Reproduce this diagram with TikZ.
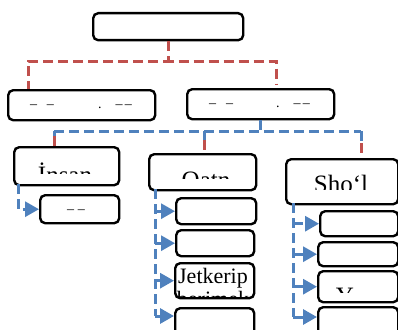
\documentclass[tikz,border=0pt]{standalone}
\usepackage{fontspec}
\setmainfont{Liberation Serif}
\usepackage{xcolor}
\usetikzlibrary{arrows.meta,positioning}
\definecolor{redline}{RGB}{192,80,77}
\definecolor{blueline}{RGB}{79,129,189}

\begin{document}
\begin{tikzpicture}[
    x=1pt, y=-1pt,
    box/.style={draw, line width=2.4pt, rounded corners=5pt, inner sep=0, anchor=north west},
    reddash/.style={draw, line width=3pt, color=redline, dash pattern=on 10pt off 5pt},
    bluedash/.style={draw, line width=3pt, color=blueline, dash pattern=on 10pt off 5pt},
    arr/.style={bluedash, -{Triangle[width=15pt,length=14pt]}},
    lbl/.style={font=\fontsize{25}{28}\selectfont, inner sep=0, anchor=base},
    small/.style={font=\fontsize{22}{25}\selectfont, inner sep=0, anchor=base},
    tick/.style={font=\fontsize{14}{16}\selectfont, inner sep=0}]
\clip (0,0) rectangle (398,329);

\node[box, minimum width=150pt, minimum height=27pt] (TOP) at (92,12) {};
\node[box, minimum width=147pt, minimum height=30pt] (ML) at (7,89) {};
\node[box, minimum width=147pt, minimum height=30pt] (MR) at (186,88) {};
\node[tick] (MLA) at (42,107) {–\hspace{10pt}–};
\node[tick] (MLB) at (115,107) {.\hspace{14pt}–\,–};
\node[tick] (MRA) at (221,106) {–\hspace{10pt}–};
\node[tick] (MRB) at (293,106) {.\hspace{14pt}–\,–};

\node[box, minimum width=105pt, minimum height=38pt] (INSAN) at (13,146) {};
\node[box, minimum width=79pt, minimum height=28pt] (INSANC) at (39,194) {};
\node[tick] (INSANCT) at (76,212) {–\hspace{4pt}–};

\node[box, minimum width=107pt, minimum height=36pt] (OATN) at (148,153) {};
\node[box, minimum width=80pt, minimum height=26pt] (OATN1) at (175,197) {};
\node[box, minimum width=78pt, minimum height=26pt] (OATN2) at (175,229) {};
\node[box, minimum width=79pt, minimum height=35pt] (OATN3) at (174,262) {};
\node[box, minimum width=79pt, minimum height=40pt] (OATN4) at (174,307) {};

\node[box, minimum width=112pt, minimum height=45pt] (SHOL) at (285,158) {};
\node[box, minimum width=78pt, minimum height=25pt] (SHOL1) at (319,210) {};
\node[box, minimum width=80pt, minimum height=24pt] (SHOL2) at (317,241) {};
\node[box, minimum width=80pt, minimum height=31pt] (SHOL3) at (317,270) {};
\node[box, minimum width=80pt, minimum height=40pt] (SHOL4) at (317,306) {};

\begin{scope}
\clip (13,146) rectangle (118,173);
\node[lbl] (INSANT) at (65,183) {İnsan};
\end{scope}
\begin{scope}
\clip (148,153) rectangle (255,178);
\node[lbl] (OATNT) at (206,188) {Oatn};
\end{scope}
\begin{scope}
\clip (285,158) rectangle (397,189);
\node[lbl] (SHOLT) at (341,192) {Sho\symbol{96}l};
\end{scope}
\node[small] (OATN3T) at (213,283) {Jetkerip};
\begin{scope}
\clip (174,262) rectangle (253,296);
\node[small] (OATN3U) at (213,306) {berimek};
\end{scope}
\begin{scope}
\clip (317,270) rectangle (397,292);
\node[lbl] (SHOL3T) at (345,304) {Y};
\end{scope}

\coordinate (RL) at (28,61);
\coordinate (RR) at (276,61);
\path[reddash] (TOP.south) |- (RL) -- (RL |- ML.north);
\path[reddash] (TOP.south) |- (RR) -- ([yshift=3pt]RR |- MR.north);

\path[bluedash] (MR.south) -- ++(0,13) coordinate (HUB);
\coordinate (DA) at (54,131);
\coordinate (DB) at (204,131);
\coordinate (DC) at (361,131);
\path[bluedash] (DA) -- (DC);
\path[bluedash] (DA) -- ++(0,5) coordinate (DA2);
\path[bluedash] (DB) -- ++(0,9) coordinate (DB2);
\path[bluedash] (DC) -- ++(0,12) coordinate (DC2);
\path[reddash] (DA2) -- (DA2 |- INSAN.north);
\path[reddash] (DB2) -- (DB2 |- OATN.north);
\path[reddash] (DC2) -- (DC2 |- SHOL.north);

\coordinate (IV) at (18,184);
\path[arr] (IV) |- (INSANC.west);

\coordinate (OV) at (155,189);
\path[bluedash] (OV) -- (OV |- 0,316);
\path[arr] (OV |- OATN1.west) -- (OATN1.west);
\path[arr] (OV |- OATN2.west) -- (OATN2.west);
\path[arr] (OV |- OATN3.west) -- (OATN3.west);
\path[arr] (OV |- 0,316) -- (OATN4.west |- 0,316);

\coordinate (SV) at (293,203);
\path[bluedash] (SV) -- (SV |- 0,317);
\path[arr] (SV |- SHOL1.west) -- (SHOL1.west);
\path[arr] (SV |- SHOL2.west) -- (SHOL2.west);
\path[arr] (SV |- SHOL3.west) -- (SHOL3.west);
\path[arr] (SV |- 0,317) -- (SHOL4.west |- 0,317);

\end{tikzpicture}
\end{document}
